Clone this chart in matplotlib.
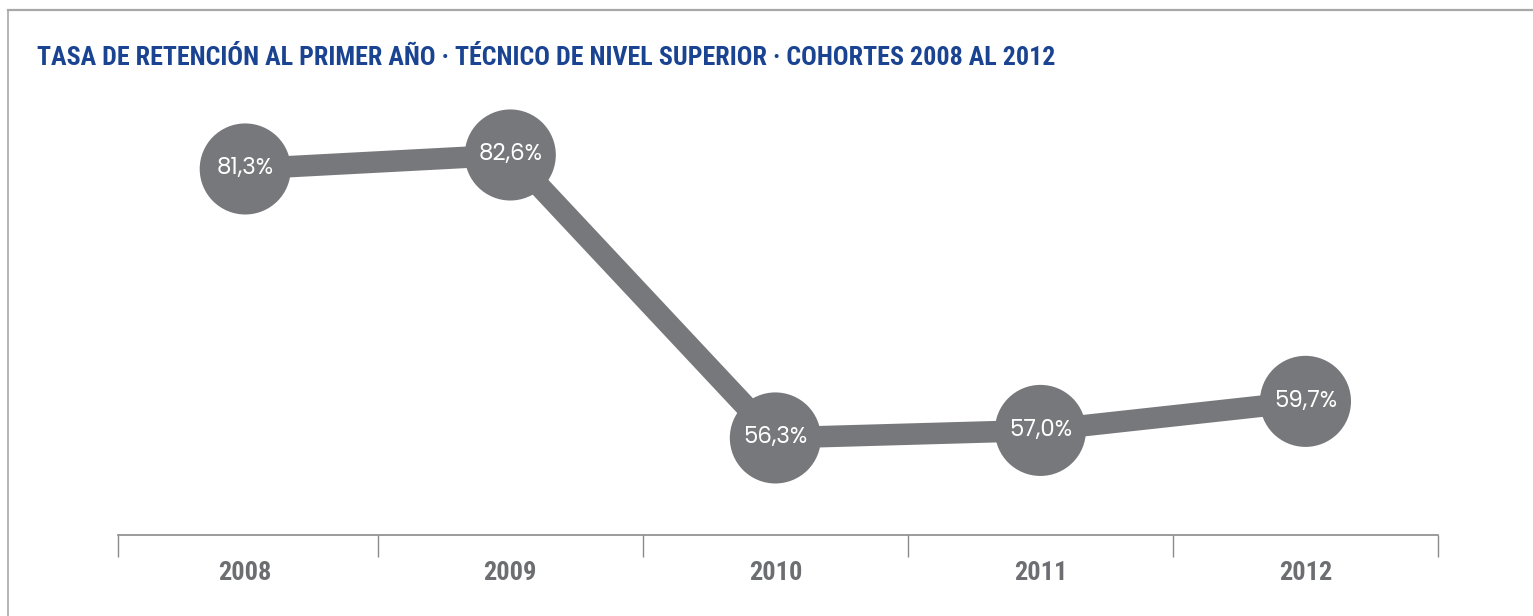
import matplotlib
matplotlib.use("Agg")
import matplotlib.pyplot as plt
from matplotlib.lines import Line2D

YEARS = ["2008", "2009", "2010", "2011", "2012"]
RETENTION = [81.3, 82.6, 56.3, 57.0, 59.7]
TITLE = "TASA DE RETENCIÓN AL PRIMER AÑO · TÉCNICO DE NIVEL SUPERIOR · COHORTES 2008 AL 2012"

GREY = "#77787b"
LABEL_GREY = "#6d6e71"
BLUE = "#1a4391"
FRAME = "#a8a8a8"
NARROW = ["Roboto Condensed", "Archivo Narrow", "DejaVu Sans"]
ROUND = ["Poppins", "Lato", "DejaVu Sans"]
W, H = 1533, 616

fig = plt.figure(figsize=(W / 100, H / 100), dpi=100)
fig.patch.set_facecolor("white")

# page frame: top and left rules only
fig.add_artist(Line2D([8 / W, 1], [1 - 10 / H, 1 - 10 / H], color=FRAME, lw=1.6))
fig.add_artist(Line2D([8 / W, 8 / W], [0, 1 - 10 / H], color=FRAME, lw=1.2))

fig.text(37 / W, 1 - 58 / H, TITLE, color=BLUE, fontsize=18.7, fontweight="bold",
         family=NARROW, va="center", ha="left")

ax = fig.add_axes([118 / W, 1 - 535 / H, (1438 - 118) / W, (535 - 100) / H])
x = list(range(len(YEARS)))
ax.plot(x, RETENTION, color=GREY, lw=15.5, solid_capstyle="butt", zorder=1)
ax.scatter(x, RETENTION, s=4300, color=GREY, edgecolors="none", zorder=2)
for xi, v in zip(x, RETENTION):
    ax.text(xi, v, f"{v:.1f}%".replace(".", ","), color="white", fontsize=16.5,
            family=ROUND, ha="center", va="center", zorder=3)

ax.set_xlim(-0.48, 4.5)
ax.set_ylim(47.28, 87.71)
ax.set_yticks([])
ax.set_xticks(x)
ax.set_xticklabels(YEARS, color=LABEL_GREY, fontsize=19, fontweight="bold", family=NARROW)
ax.set_xticks([-0.48, 0.5, 1.5, 2.5, 3.5, 4.5], minor=True)
ax.tick_params(axis="x", which="major", length=0, pad=19)
ax.tick_params(axis="x", which="minor", length=16, width=1, color="#8a8a8a", direction="out")
for name, sp in ax.spines.items():
    sp.set_visible(name == "bottom")
ax.spines["bottom"].set_color("#8a8a8a")
ax.spines["bottom"].set_linewidth(1.2)
ax.patch.set_alpha(0)

fig.savefig("out.png", dpi=100, facecolor="white")
